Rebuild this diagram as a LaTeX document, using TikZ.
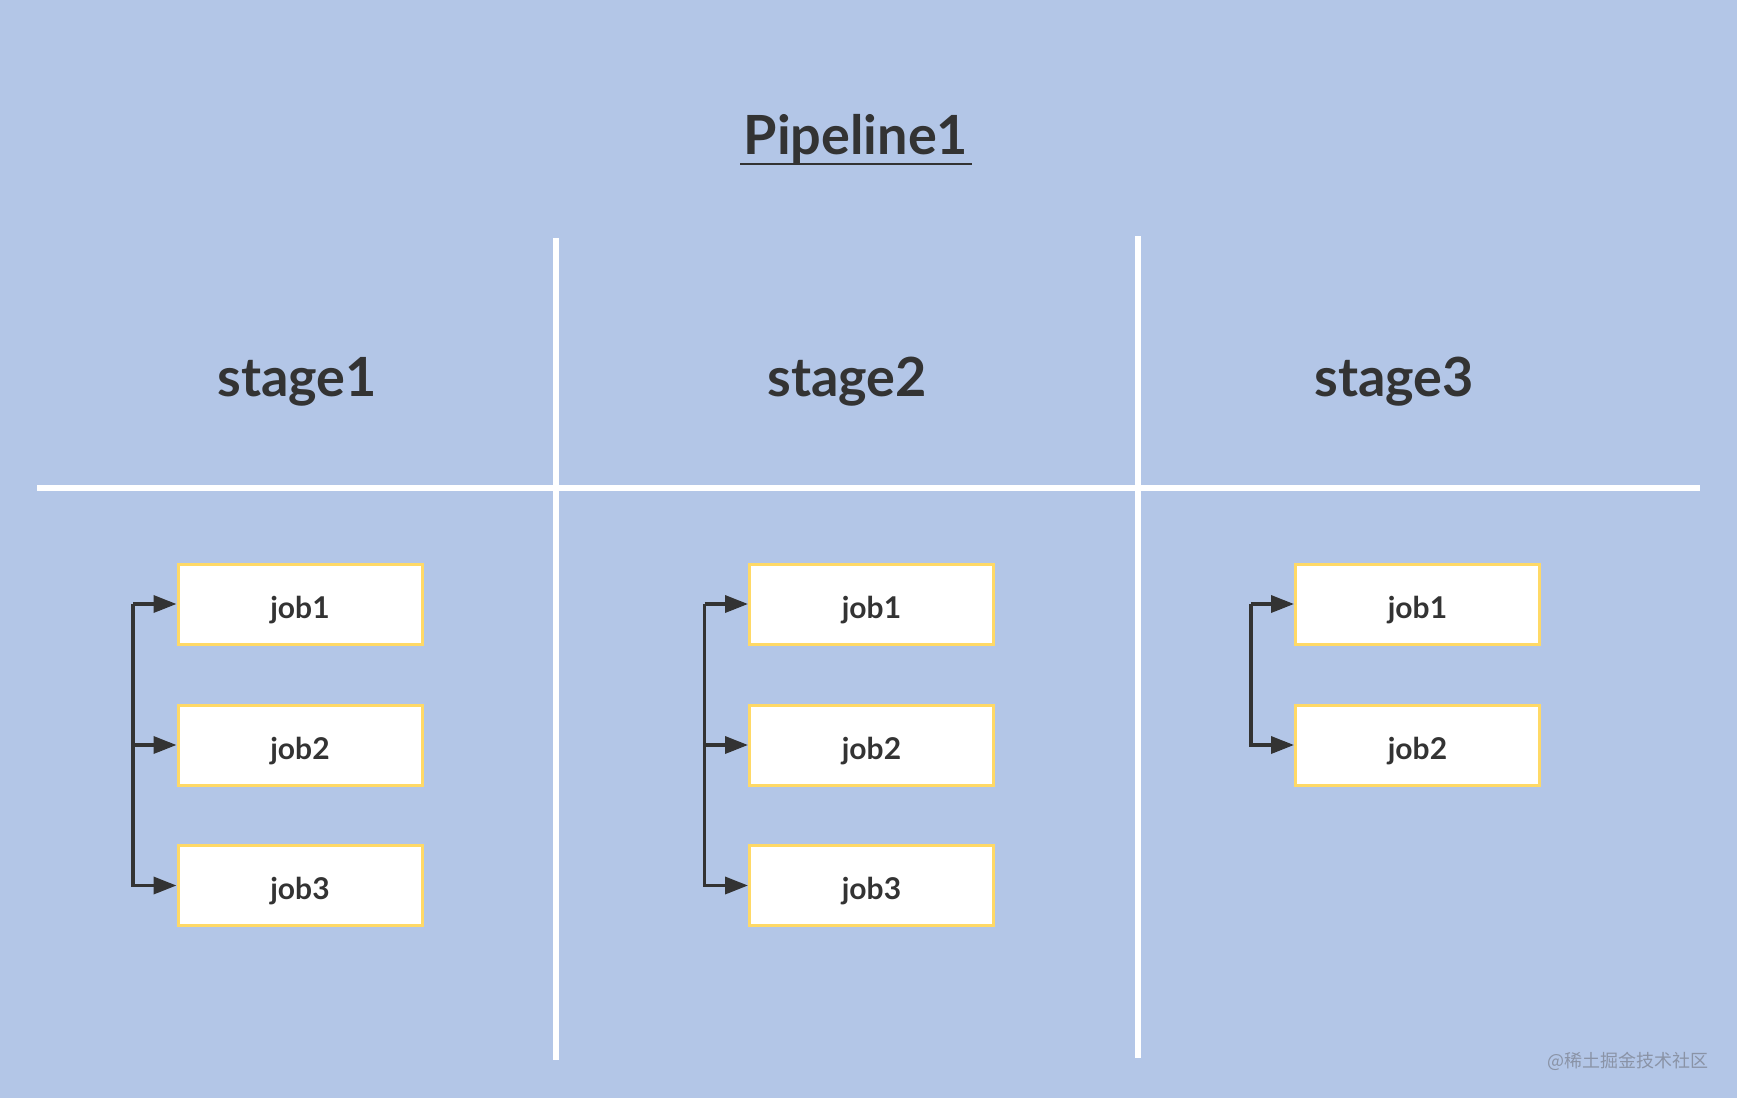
\documentclass[tikz,border=0pt]{standalone}
\usepackage{fontspec}
\setmainfont{Lato}
\newfontfamily\cjk{Noto Sans CJK SC}
\usetikzlibrary{arrows.meta}
\definecolor{bg}{HTML}{B3C6E7}
\definecolor{ink}{HTML}{333333}
\definecolor{boxborder}{HTML}{FFD966}
\definecolor{wm}{HTML}{8A93A6}
\tikzset{
  sep/.style={draw=white, line width=3pt},
  jobbox/.style={draw=boxborder, fill=white, line width=1.5pt, minimum width=122pt, minimum height=40pt, inner sep=0pt, text height=14pt, text depth=0pt, font=\bfseries\fontsize{15}{18}\selectfont, text=ink},
  stagelabel/.style={font=\bfseries\fontsize{27}{32}\selectfont, text=ink, anchor=base},
  conn/.style={draw=ink, line width=1.8pt, -{Triangle[length=11.5pt,width=8.5pt]}},
}
\begin{document}
\begin{tikzpicture}[x=0.5pt,y=-0.5pt]
\fill[bg] (0,0) rectangle (1737,1098);
\useasboundingbox (0,0) rectangle (1737,1098);

% title
\node[font=\bfseries\fontsize{27}{32}\selectfont, text=ink, anchor=base, inner xsep=1.5pt] (title) at (856,154) {Pipeline1};
\draw[ink, line width=1.4pt] ([yshift=-5pt]title.base west) -- ([yshift=-5pt]title.base east);

% separators
\coordinate (v1t) at (556,238); \coordinate (v1b) at (556,1060);
\coordinate (v2t) at (1138,236); \coordinate (v2b) at (1138,1058);
\coordinate (hl) at (37,487.5); \coordinate (hr) at (1700,487.5);
\draw[sep] (v1t) -- (v1b);
\draw[sep] (v2t) -- (v2b);
\draw[sep] (hl) -- (hr);

% stage labels
\node[stagelabel] (st1) at (297,396) {stage1};
\node[stagelabel] (st2) at (847,396) {stage2};
\node[stagelabel] (st3) at (1394,396) {stage3};

% jobs stage1
\node[jobbox] (s1j1) at (300,604) {job1};
\node[jobbox] (s1j2) at (300,745) {job2};
\node[jobbox] (s1j3) at (300,885.5) {job3};
% jobs stage2
\node[jobbox] (s2j1) at (871.5,604) {job1};
\node[jobbox] (s2j2) at (871.5,745) {job2};
\node[jobbox] (s2j3) at (871.5,885.5) {job3};
% jobs stage3
\node[jobbox] (s3j1) at (1417.5,604) {job1};
\node[jobbox] (s3j2) at (1417.5,745) {job2};

% connectors
\coordinate (bus1) at (133,604);
\draw[conn] (bus1) -- (s1j1.west);
\draw[conn] (bus1) |- (s1j2.west);
\draw[conn] (bus1) |- (s1j3.west);

\coordinate (bus2) at (704.5,604);
\draw[conn] (bus2) -- (s2j1.west);
\draw[conn] (bus2) |- (s2j2.west);
\draw[conn] (bus2) |- (s2j3.west);

\coordinate (bus3) at (1251,604);
\draw[conn] (bus3) -- (s3j1.west);
\draw[conn] (bus3) |- (s3j2.west);

% watermark
\node[font=\cjk\fontsize{9}{11}\selectfont, text=wm] (wmk) at (1628,1061) {@稀土掘金技术社区};
\end{tikzpicture}
\end{document}
